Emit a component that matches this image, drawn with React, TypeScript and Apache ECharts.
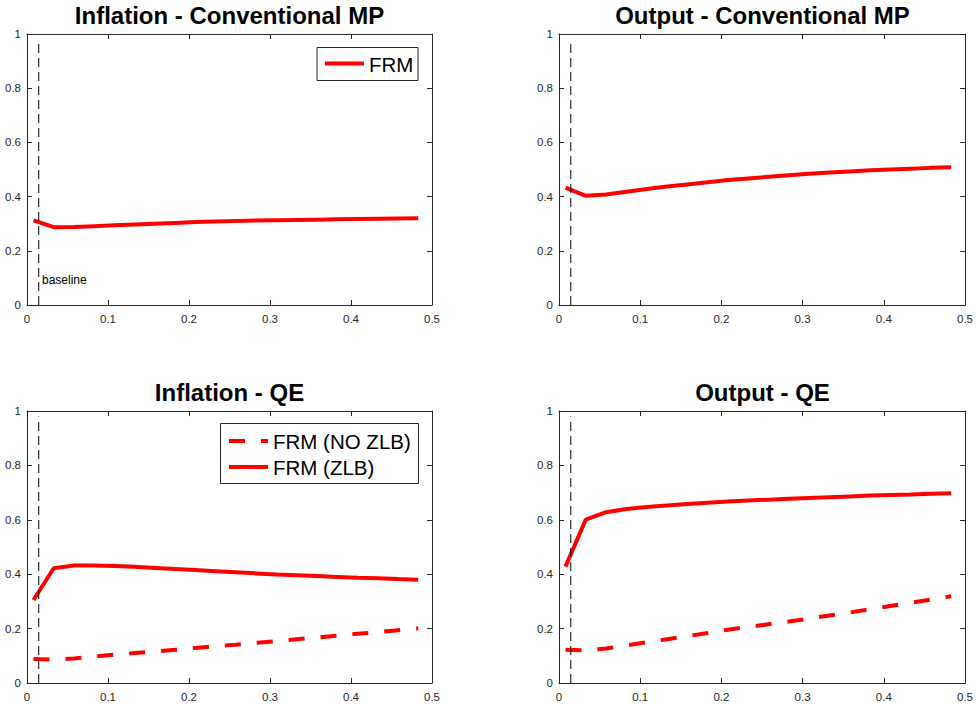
import React, { useEffect, useRef } from "react";
import * as echarts from "echarts";

const X = [0.008, 0.033, 0.058, 0.083, 0.108, 0.133, 0.158, 0.183, 0.208, 0.233, 0.258, 0.283, 0.308, 0.333, 0.358, 0.383, 0.408, 0.433, 0.458, 0.483];

const inflMP = [0.312, 0.287, 0.288, 0.291, 0.294, 0.297, 0.300, 0.303, 0.306, 0.308, 0.310, 0.312, 0.313, 0.314, 0.315, 0.316, 0.317, 0.318, 0.319, 0.320];
const outMP = [0.433, 0.403, 0.408, 0.418, 0.428, 0.437, 0.445, 0.453, 0.461, 0.467, 0.473, 0.479, 0.484, 0.489, 0.493, 0.497, 0.500, 0.503, 0.506, 0.508];
const inflQEzlb = [0.305, 0.422, 0.432, 0.432, 0.430, 0.427, 0.423, 0.419, 0.415, 0.411, 0.407, 0.403, 0.399, 0.396, 0.393, 0.390, 0.387, 0.385, 0.382, 0.380];
const inflQEnozlb = [0.088, 0.086, 0.090, 0.097, 0.104, 0.110, 0.116, 0.122, 0.129, 0.135, 0.141, 0.148, 0.154, 0.161, 0.167, 0.174, 0.181, 0.187, 0.194, 0.201];
const outQEzlb = [0.428, 0.601, 0.628, 0.640, 0.647, 0.653, 0.658, 0.663, 0.667, 0.671, 0.674, 0.677, 0.680, 0.683, 0.686, 0.689, 0.691, 0.693, 0.696, 0.698];
const outQEnozlb = [0.122, 0.120, 0.127, 0.138, 0.150, 0.161, 0.172, 0.184, 0.196, 0.206, 0.216, 0.226, 0.237, 0.248, 0.259, 0.271, 0.283, 0.295, 0.307, 0.319];

const BASELINE_X = 0.0145;
const BASELINE_Y = [0, 0.98];
const BASELINE_LABEL = "baseline";

const TITLES = ["Inflation - Conventional MP", "Output - Conventional MP", "Inflation - QE", "Output - QE"];
const NAME_FRM = "FRM";
const NAME_NOZLB = "FRM (NO ZLB)";
const NAME_ZLB = "FRM (ZLB)";

const FONT = "'Liberation Sans', Arial, Helvetica, sans-serif";
const AX = "#262626";
const RED = "#ff0000";
const DASH = [16, 16];

const GRIDS = [
  { left: 27, top: 34, width: 405, height: 271 },
  { left: 559, top: 34, width: 407, height: 271 },
  { left: 27, top: 411, width: 405, height: 272 },
  { left: 559, top: 411, width: 407, height: 272 },
];

export default function App() {
  const ref = useRef<HTMLDivElement>(null);
  useEffect(() => {
    if (!ref.current) return;
    const chart = echarts.init(ref.current, undefined, { renderer: "svg" });

    const xAxes: any[] = [];
    const yAxes: any[] = [];
    GRIDS.forEach((_, i) => {
      const tick = { show: true, inside: true, length: 5, lineStyle: { color: AX, width: 1 } };
      const line = { show: true, onZero: false, lineStyle: { color: AX, width: 1 } };
      xAxes.push({
        type: "value", gridIndex: i, position: "bottom", min: 0, max: 0.5, interval: 0.1,
        axisLine: line, axisTick: tick, splitLine: { show: false },
        axisLabel: { fontSize: 11.5, color: AX, margin: 8, fontFamily: FONT },
      });
      xAxes.push({
        type: "value", gridIndex: i, position: "top", min: 0, max: 0.5, interval: 0.1,
        axisLine: line, axisTick: tick, splitLine: { show: false }, axisLabel: { show: false },
      });
      yAxes.push({
        type: "value", gridIndex: i, position: "left", min: 0, max: 1, interval: 0.2,
        axisLine: line, axisTick: tick, splitLine: { show: false },
        axisLabel: { fontSize: 11.5, color: AX, margin: 6, fontFamily: FONT },
      });
      yAxes.push({
        type: "value", gridIndex: i, position: "right", min: 0, max: 1, interval: 0.2,
        axisLine: line, axisTick: tick, splitLine: { show: false }, axisLabel: { show: false },
      });
    });

    const mk = (name: string, vals: number[], g: number, dashed: boolean) => ({
      type: "line", name, xAxisIndex: g * 2, yAxisIndex: g * 2, symbol: "none", showSymbol: false,
      data: X.map((x, k) => [x, vals[k]]),
      lineStyle: { color: RED, width: 4, type: dashed ? DASH : "solid", cap: "butt" },
      itemStyle: { color: RED }, z: 2,
    });
    const base = (g: number) => ({
      type: "line", name: "base" + g, xAxisIndex: g * 2, yAxisIndex: g * 2, symbol: "none",
      data: BASELINE_Y.map((y) => [BASELINE_X, y]),
      lineStyle: { color: "#000", width: 1, type: [9, 5] }, z: 3,
    });

    const series = [
      mk(NAME_FRM, inflMP, 0, false),
      mk(NAME_FRM, outMP, 1, false),
      mk(NAME_NOZLB, inflQEnozlb, 2, true),
      mk(NAME_ZLB, inflQEzlb, 2, false),
      mk(NAME_NOZLB, outQEnozlb, 3, true),
      mk(NAME_ZLB, outQEzlb, 3, false),
      base(0), base(1), base(2), base(3),
    ];

    const titleY = [15, 15, 392, 392];
    const titles = GRIDS.map((g, i) => ({
      text: TITLES[i], left: g.left + g.width / 2, top: titleY[i], textAlign: "center", textVerticalAlign: "middle",
      padding: 0,
      textStyle: { fontSize: 24, fontWeight: "bold", color: "#000", fontFamily: FONT },
    }));

    const graphic = [
      { type: "rect", shape: { x: 317, y: 47.5, width: 101, height: 33 }, style: { fill: "#fff", stroke: AX, lineWidth: 1 }, z: 10 },
      { type: "line", shape: { x1: 325, y1: 63.5, x2: 364, y2: 63.5 }, style: { stroke: RED, lineWidth: 4 }, z: 11 },
      { type: "text", x: 369, y: 64, style: { text: NAME_FRM, fontSize: 20.5, fill: "#000", fontFamily: FONT, verticalAlign: "middle" }, z: 11 },
      { type: "rect", shape: { x: 220.5, y: 423.5, width: 198, height: 60 }, style: { fill: "#fff", stroke: AX, lineWidth: 1 }, z: 10 },
      { type: "line", shape: { x1: 229, y1: 441, x2: 268, y2: 441 }, style: { stroke: RED, lineWidth: 4, lineDash: DASH }, z: 11 },
      { type: "text", x: 273, y: 441.5, style: { text: NAME_NOZLB, fontSize: 20.5, fill: "#000", fontFamily: FONT, verticalAlign: "middle" }, z: 11 },
      { type: "line", shape: { x1: 229, y1: 467, x2: 268, y2: 467 }, style: { stroke: RED, lineWidth: 4 }, z: 11 },
      { type: "text", x: 273, y: 467.5, style: { text: NAME_ZLB, fontSize: 20.5, fill: "#000", fontFamily: FONT, verticalAlign: "middle" }, z: 11 },
      { type: "text", x: 42, y: 279.5, style: { text: BASELINE_LABEL, fontSize: 12, fill: "#000", fontFamily: FONT, verticalAlign: "middle" }, z: 11 },
    ];

    chart.setOption({
      animation: false,
      backgroundColor: "#fff",
      title: titles,
      grid: GRIDS.map((g) => ({ ...g, containLabel: false, show: false })),
      xAxis: xAxes,
      yAxis: yAxes,
      series,
      graphic,
    });
    return () => chart.dispose();
  }, []);
  return (
    <div
      ref={ref}
      style={{ position: "fixed", left: 0, top: 0, width: 976, height: 706, background: "#fff" }}
    />
  );
}
